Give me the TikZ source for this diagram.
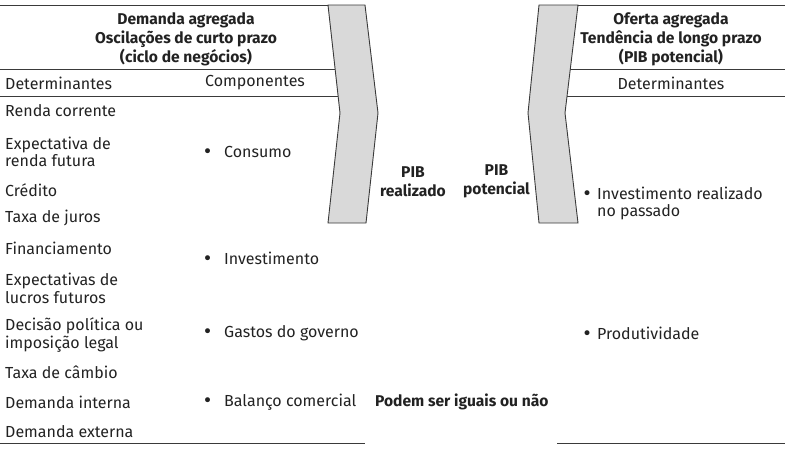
\documentclass[tikz,border=0pt]{standalone}
\usepackage{fontspec}
\setmainfont{Fira Sans}
\newfontfamily\bulfont{DejaVu Sans}
\newcommand{\bul}{{\bulfont\fontsize{17}{17}\selectfont •}}
\definecolor{ink}{HTML}{222222}
\definecolor{rulec}{HTML}{3A3A3A}
\definecolor{chevfill}{HTML}{D9D9D9}
\begin{document}
\begin{tikzpicture}[x=1pt,y=-1pt,
  txt/.style={font=\fontsize{16}{17.5}\selectfont, text=ink, inner sep=0pt, anchor=west, align=left},
  head/.style={font=\bfseries\fontsize{15.6}{19.2}\selectfont, text=ink, inner sep=0pt, align=center},
  bold/.style={font=\bfseries\fontsize{15.6}{19}\selectfont, text=ink, inner sep=0pt, align=center},
  rule/.style={draw=rulec, line width=1pt},
  chev/.style={draw=rulec, line width=0.9pt, fill=chevfill, line join=miter}]
\useasboundingbox (0,0) rectangle (805,453);
% rules
\draw[rule] (0,5) -- (365,5);
\draw[rule] (0,69) -- (336,69);
\draw[rule] (0,96) -- (339,96);
\draw[rule] (0,443) -- (365,443);
\draw[rule] (539,5) -- (785,5);
\draw[rule] (569,69) -- (785,69);
\draw[rule] (566,96) -- (785,96);
\draw[rule] (557,443) -- (785,443);
% chevrons
\draw[chev] (328,5) -- (365,5) -- (378,113) -- (366,223) -- (328,223) -- (340,113) -- cycle;
\draw[chev] (539,5) -- (578,5) -- (565,113) -- (578,223) -- (539,223) -- (528,113) -- cycle;
% headers
\node[head] (hl) at (186,39.5) {Demanda agregada\\Oscilações de curto prazo\\(ciclo de negócios)};
\node[head] (hr) at (671,39.5) {Oferta agregada\\Tendência de longo prazo\\(PIB potencial)};
\node[txt] (dl) at (5,83) {Determinantes};
\node[txt] (cl) at (205,83) {Componentes};
\node[txt, anchor=center] (dr) at (671,83) {Determinantes};
% determinants left
\node[txt] (d1) at (5,111) {Renda corrente};
\node[txt] (d2) at (5,152) {Expectativa de\\renda futura};
\node[txt] (d3) at (5,190) {Crédito};
\node[txt] (d4) at (5,218) {Taxa de juros};
\node[txt] (d5) at (5,248) {Financiamento};
\node[txt] (d6) at (5,288.5) {Expectativas de\\lucros futuros};
\node[txt] (d7) at (5,335) {Decisão política ou\\imposição legal};
\node[txt] (d8) at (5,372) {Taxa de câmbio};
\node[txt] (d9) at (5,402) {Demanda interna};
\node[txt] (d10) at (5,432) {Demanda externa};
% components
\node[txt] (c1) at (202.5,152) {\makebox[21.5pt][l]{\bul}Consumo};
\node[txt] (c2) at (202.5,258) {\makebox[21.5pt][l]{\bul}Investimento};
\node[txt] (c3) at (202.5,333) {\makebox[21.5pt][l]{\bul}Gastos do governo};
\node[txt] (c4) at (202.5,402) {\makebox[21.5pt][l]{\bul}Balanço comercial};
% PIB
\node[bold] (pr) at (413,181.5) {PIB\\realizado};
\node[bold] (pp) at (496.5,181.5) {PIB\\potencial};
\node[bold, anchor=west] (eq) at (375,402) {Podem ser iguais ou não};
% right determinants
\node[txt] (r1) at (582,203.5) {\makebox[15pt][l]{\bul}Investimento realizado\\\hspace*{15pt}no passado};
\node[txt] (r2) at (582,333) {\makebox[15pt][l]{\bul}Produtividade};
\end{tikzpicture}
\end{document}
